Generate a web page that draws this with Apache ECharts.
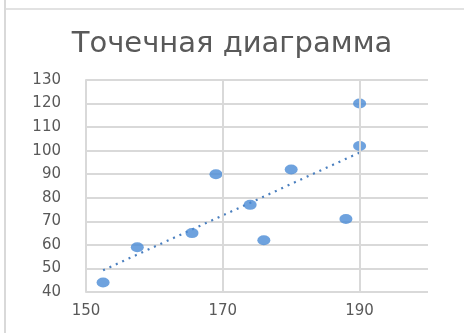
<!DOCTYPE html>
<html>
<head>
<meta charset="utf-8">
<script src="https://cdn.jsdelivr.net/npm/echarts@6/dist/echarts.min.js"></script>
<style>
  html, body { margin: 0; padding: 0; background: #fff; }
  #chart { width: 464px; height: 333px; }
</style>
</head>
<body>
<div id="chart"></div>
<script>
// Height (x) and weight (y) observations
const heights = [152.5, 157.5, 165.5, 169, 174, 176, 180, 188, 190, 190];
const weights = [44, 59, 65, 90, 77, 62, 92, 71, 102, 120];
const xTicks = [150, 170, 190];
const yTicks = [40, 50, 60, 70, 80, 90, 100, 110, 120, 130];
const titleText = 'Точечная диаграмма';

// Least-squares linear trend over the observations
function linearTrend(xs, ys) {
  const n = xs.length;
  const mx = xs.reduce((a, b) => a + b, 0) / n;
  const my = ys.reduce((a, b) => a + b, 0) / n;
  let sxy = 0, sxx = 0;
  for (let i = 0; i < n; i++) {
    sxy += (xs[i] - mx) * (ys[i] - my);
    sxx += (xs[i] - mx) * (xs[i] - mx);
  }
  const k = sxy / sxx;
  const b = my - k * mx;
  const x0 = Math.min(...xs), x1 = Math.max(...xs);
  return [[x0, k * x0 + b], [x1, k * x1 + b]];
}

const points = heights.map((h, i) => [h, weights[i]]);
const trend = linearTrend(heights, weights);

const chart = echarts.init(document.getElementById('chart'), null, { renderer: 'canvas' });
const labelColor = '#595959';
const gridColor = '#d9d9d9';
const font = 'DejaVu Sans';

chart.setOption({
  animation: false,
  backgroundColor: '#fff',
  graphic: [
    { type: 'line', shape: { x1: 5, y1: 0, x2: 5, y2: 333 }, style: { stroke: '#d9d9d9', lineWidth: 2 } },
    { type: 'line', shape: { x1: 5, y1: 9, x2: 464, y2: 9 }, style: { stroke: '#d9d9d9', lineWidth: 1.5 } }
  ],
  title: {
    text: titleText,
    left: 'center',
    top: 25,
    textStyle: { fontFamily: font, fontSize: 29, fontWeight: 'normal', color: labelColor }
  },
  grid: { left: 86, right: 36, top: 80, bottom: 41 },
  xAxis: {
    type: 'value',
    min: 150, max: 200, interval: 20,
    axisLine: { show: false },
    axisTick: { show: false },
    axisLabel: {
      fontFamily: font, fontSize: 15, color: labelColor, margin: 12,
      formatter: v => xTicks.includes(v) ? String(v) : ''
    },
    splitLine: { show: false }
  },
  yAxis: {
    type: 'value',
    min: 40, max: 130, interval: 10,
    axisLine: { show: true, lineStyle: { color: gridColor, width: 2 } },
    axisTick: { show: false },
    axisLabel: {
      fontFamily: font, fontSize: 15, color: labelColor, margin: 25,
      formatter: v => yTicks.includes(v) ? String(v) : ''
    },
    splitLine: { show: true, lineStyle: { color: gridColor, width: 2 } }
  },
  series: [
    {
      type: 'line',
      data: trend,
      symbol: 'none',
      lineStyle: { color: '#4a7fbf', width: 2.2, type: [2, 5] },
      z: 2,
      // vertical gridlines at the inner x ticks
      markLine: {
        silent: true,
        symbol: 'none',
        label: { show: false },
        lineStyle: { color: gridColor, width: 2, type: 'solid' },
        data: xTicks.filter(v => v !== 150).map(v => ({ xAxis: v }))
      }
    },
    {
      type: 'scatter',
      data: points,
      symbol: 'circle',
      symbolSize: [13, 10],
      itemStyle: { color: '#4a8bd6' },
      z: 3
    }
  ]
});
</script>
</body>
</html>
